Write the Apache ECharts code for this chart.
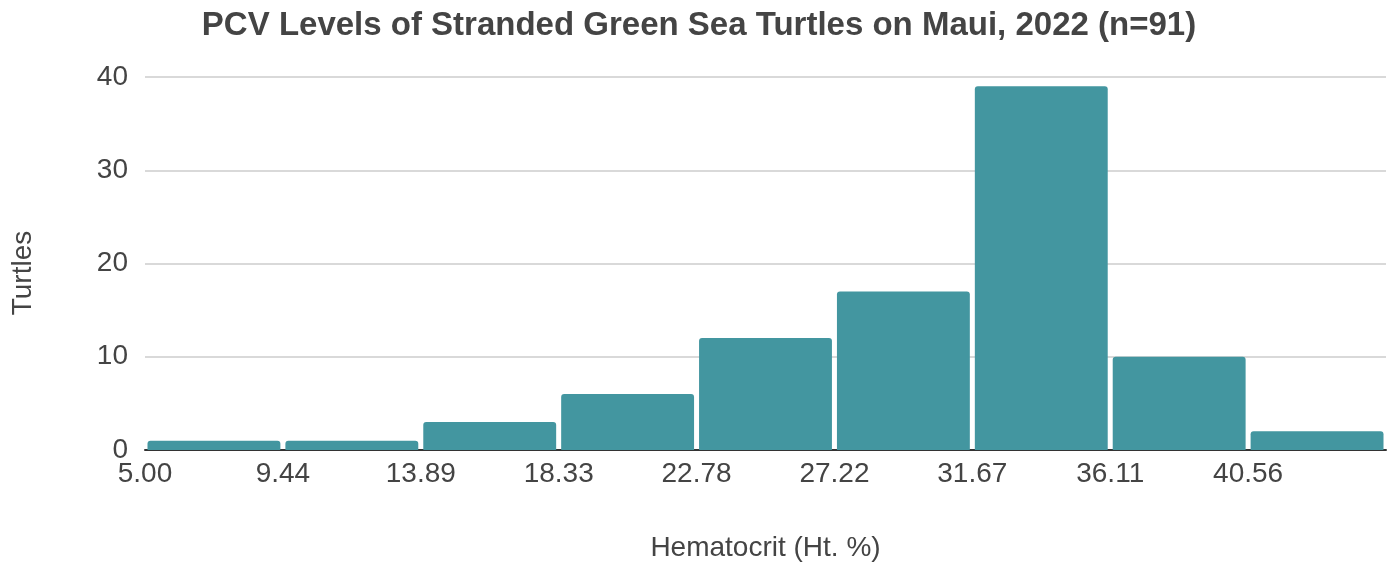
<!DOCTYPE html>
<html>
<head>
<meta charset="utf-8">
<script src="https://cdn.jsdelivr.net/npm/echarts@6/dist/echarts.min.js"></script>
<style>
  html, body { margin: 0; padding: 0; background: #fff; }
  #chart { width: 1398px; height: 568px; }
</style>
</head>
<body>
<div id="chart"></div>
<script>
// bin edges shown on the x axis (last edge 45.00 is not labelled)
const binLabels = ["5.00", "9.44", "13.89", "18.33", "22.78", "27.22", "31.67", "36.11", "40.56", ""];
// turtles per bin
const counts = [1, 1, 3, 6, 12, 17, 39, 10, 2];
const yTicks = [0, 10, 20, 30, 40];

const font = "'Liberation Sans', Arial, sans-serif";
const chart = echarts.init(document.getElementById("chart"));

const option = {
  backgroundColor: "#fff",
  animation: false,
  title: {
    text: "PCV Levels of Stranded Green Sea Turtles on Maui, 2022 (n=91)",
    left: "center",
    top: 4,
    textStyle: { fontFamily: font, fontSize: 33, fontWeight: "bold", color: "#444" }
  },
  grid: { left: 145, right: 12, top: 77, bottom: 118 },
  xAxis: {
    type: "value",
    min: 0,
    max: counts.length,
    interval: 1,
    name: "Hematocrit (Ht. %)",
    nameLocation: "middle",
    nameGap: 84,
    nameTextStyle: { fontFamily: font, fontSize: 28, color: "#444" },
    axisLine: { show: true, lineStyle: { color: "#333", width: 2 } },
    axisTick: { show: false },
    splitLine: { show: false },
    axisLabel: {
      fontFamily: font, fontSize: 28, color: "#444", margin: 10,
      showMaxLabel: false,
      formatter: function (v) { return binLabels[Math.round(v)] || ""; }
    }
  },
  yAxis: {
    type: "value",
    min: yTicks[0],
    max: yTicks[yTicks.length - 1],
    interval: 10,
    name: "Turtles",
    nameLocation: "middle",
    nameGap: 108,
    nameTextStyle: { fontFamily: font, fontSize: 28, color: "#444", padding: [0, 19, 0, 0] },
    axisLine: { show: false },
    axisTick: { show: false },
    splitLine: { lineStyle: { color: "#cccccc", width: 1.5 } },
    axisLabel: { fontFamily: font, fontSize: 28, color: "#444", margin: 17 }
  },
  series: [{
    type: "custom",
    data: counts.map(function (c, i) { return [i, c]; }),
    encode: { x: 0, y: 1 },
    renderItem: function (params, api) {
      const i = api.value(0);
      const topLeft = api.coord([i, api.value(1)]);
      const bottomRight = api.coord([i + 1, 0]);
      const gap = 2.5;
      return {
        type: "rect",
        shape: {
          x: topLeft[0] + gap,
          y: topLeft[1],
          width: bottomRight[0] - topLeft[0] - gap * 2,
          height: bottomRight[1] - topLeft[1],
          r: [3, 3, 0, 0]
        },
        style: { fill: "#4396a0" }
      };
    }
  }]
};

chart.setOption(option);
</script>
</body>
</html>
